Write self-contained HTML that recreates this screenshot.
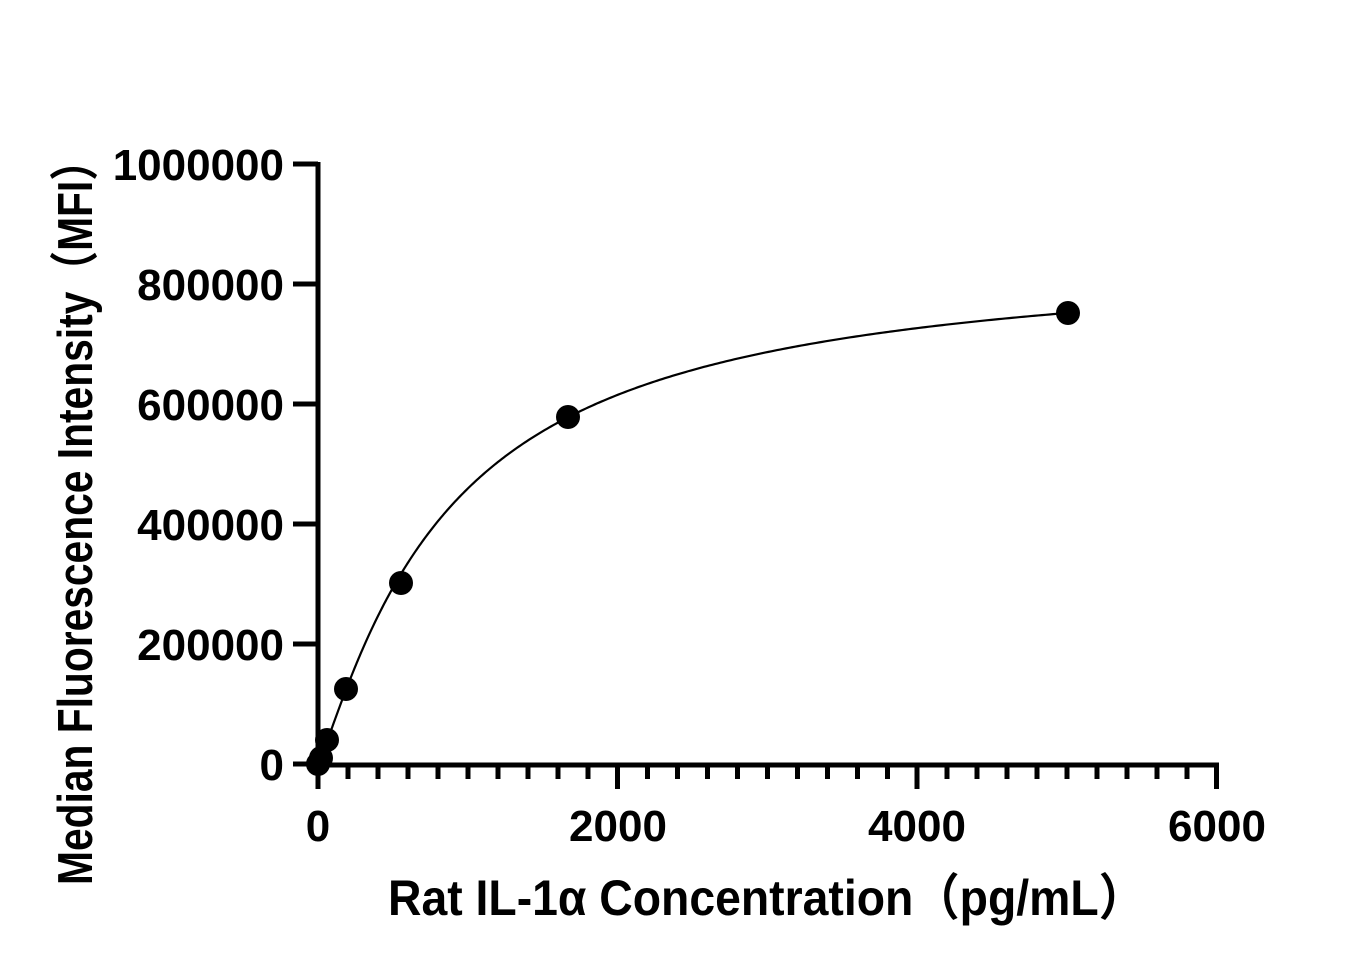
<!DOCTYPE html>
<html><head><meta charset="utf-8"><style>html,body{margin:0;padding:0;background:#fff;}svg{display:block}</style></head>
<body>
<svg width="1356" height="969" viewBox="0 0 1356 969" xmlns="http://www.w3.org/2000/svg" font-family="'Liberation Sans','Noto Sans CJK SC',sans-serif" font-weight="bold">
<g stroke="#000" stroke-width="5" fill="none">
<line x1="318" y1="162" x2="318" y2="767"/>
<line x1="316" y1="765" x2="1219" y2="765"/>
<line x1="293" y1="164" x2="318" y2="164"/>
<line x1="293" y1="284" x2="318" y2="284"/>
<line x1="293" y1="404" x2="318" y2="404"/>
<line x1="293" y1="524" x2="318" y2="524"/>
<line x1="293" y1="644" x2="318" y2="644"/>
<line x1="293" y1="764" x2="318" y2="764"/>
<path d="M318,765V789 M348,765V779 M378,765V779 M408,765V779 M438,765V779 M468,765V779 M498,765V779 M528,765V779 M558,765V779 M588,765V779 M617.5,765V789 M647.5,765V779 M677.5,765V779 M707.5,765V779 M737.5,765V779 M767.5,765V779 M797.5,765V779 M827.5,765V779 M857.5,765V779 M887.5,765V779 M917,765V789 M947,765V779 M977,765V779 M1007,765V779 M1037,765V779 M1067,765V779 M1097,765V779 M1127,765V779 M1157,765V779 M1187,765V779 M1216.5,765V789"/>
</g>
<g font-size="44" text-anchor="end" fill="#000">
<text x="284" y="180">1000000</text>
<text x="284" y="300">800000</text>
<text x="284" y="420">600000</text>
<text x="284" y="540">400000</text>
<text x="284" y="660">200000</text>
<text x="284" y="780">0</text>
</g>
<g font-size="44" text-anchor="middle" fill="#000">
<text x="318" y="841">0</text>
<text x="618" y="841">2000</text>
<text x="917" y="841">4000</text>
<text x="1217" y="841">6000</text>
</g>
<text x="388" y="915" font-size="50" textLength="757" lengthAdjust="spacingAndGlyphs" fill="#000">Rat IL-1α Concentration（pg/mL）</text>
<text transform="translate(92,885) rotate(-90)" font-size="49" textLength="745" lengthAdjust="spacingAndGlyphs" fill="#000">Median Fluorescence Intensity（MFI）</text>
<path id="curve" fill="none" stroke="#000" stroke-width="2.2"/>
<g fill="#000">
<circle cx="318" cy="764" r="12"/>
<circle cx="321" cy="758" r="12"/>
<circle cx="327" cy="740" r="12"/>
<circle cx="346" cy="689" r="12"/>
<circle cx="401" cy="583" r="12"/>
<circle cx="568" cy="417" r="12"/>
<circle cx="1068" cy="313" r="12"/>
</g>
<script>
var d=853000,c=874,b=1.15,p='';
for(var i=0;i<=400;i++){var xv=Math.pow(i/400,2)*5000;var yv=xv<=0?0:d/(1+Math.pow(c/xv,b));var px=318+xv*0.15,py=764-yv*0.0006;p+=(i?'L':'M')+px.toFixed(2)+','+py.toFixed(2);}
document.getElementById('curve').setAttribute('d',p);
</script>
</svg>
</body></html>
